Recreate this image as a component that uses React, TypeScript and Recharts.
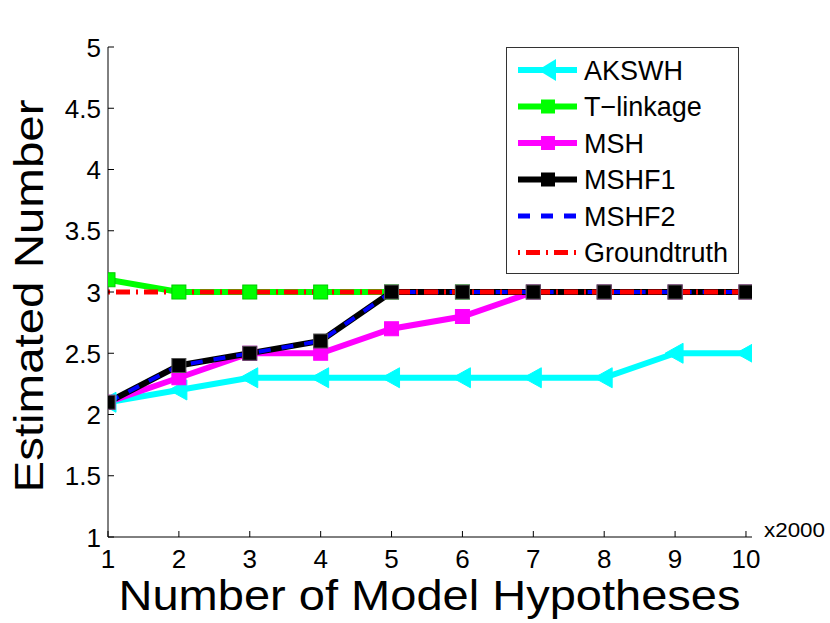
import React from "react";
import { LineChart, Line, XAxis, YAxis } from "recharts";

const hypotheses = [1, 2, 3, 4, 5, 6, 7, 8, 9, 10];
const akswh = [2.1, 2.2, 2.3, 2.3, 2.3, 2.3, 2.3, 2.3, 2.5, 2.5];
const tlinkage = [3.1, 3, 3, 3, 3, 3, 3, 3, 3, 3];
const msh = [2.1, 2.3, 2.5, 2.5, 2.7, 2.8, 3, 3, 3, 3];
const mshf1 = [2.1, 2.4, 2.5, 2.6, 3, 3, 3, 3, 3, 3];
const mshf2 = [2.1, 2.4, 2.5, 2.6, 3, 3, 3, 3, 3, 3];
const groundtruth = [3, 3, 3, 3, 3, 3, 3, 3, 3, 3];

const xTicks = [1, 2, 3, 4, 5, 6, 7, 8, 9, 10];
const yTicks = [1, 1.5, 2, 2.5, 3, 3.5, 4, 4.5, 5];
const seriesNames = ["AKSWH", "T\u2212linkage", "MSH", "MSHF1", "MSHF2", "Groundtruth"];

const data = hypotheses.map((h, i) => ({
  h,
  akswh: akswh[i],
  tlinkage: tlinkage[i],
  msh: msh[i],
  mshf1: mshf1[i],
  mshf2: mshf2[i],
  groundtruth: groundtruth[i],
}));

const FONT = "'Liberation Sans', Arial, Helvetica, sans-serif";

const CYAN = "#00FFFF";
const GREEN = "#00FF00";
const MAGENTA = "#FF00FF";
const BLACK = "#000000";
const BLUE = "#0000FF";
const RED = "#FF0000";

const triangleDot = (color: string) => (props: any) => {
  const { cx, cy, index } = props;
  if (cx == null || cy == null) return <g key={index} />;
  return (
    <path
      key={index}
      d={`M${cx - 10},${cy} L${cx + 8},${cy - 10} L${cx + 8},${cy + 10} Z`}
      fill={color}
      stroke={color}
      strokeWidth={1}
    />
  );
};

const squareDot = (fill: string, stroke: string) => (props: any) => {
  const { cx, cy, index } = props;
  if (cx == null || cy == null) return <g key={index} />;
  return (
    <rect
      key={index}
      x={cx - 7}
      y={cy - 7}
      width={14}
      height={14}
      fill={fill}
      stroke={stroke}
      strokeWidth={1}
    />
  );
};

const legendStyles = [
  { color: CYAN, width: 6, dash: undefined, marker: "tri" },
  { color: GREEN, width: 6, dash: undefined, marker: "sq" },
  { color: MAGENTA, width: 6, dash: undefined, marker: "sq" },
  { color: BLACK, width: 6, dash: undefined, marker: "sq" },
  { color: BLUE, width: 5, dash: "12 11", marker: null },
  { color: RED, width: 5, dash: "2 6 14 6", marker: null },
];

const LegendBox = () => (
  <svg width={233} height={227} style={{ display: "block" }}>
    <rect x={0.5} y={0.5} width={232} height={226} fill="#fff" stroke="#333" strokeWidth={1} />
    {seriesNames.map((name, i) => {
      const st = legendStyles[i];
      const cy = 23 + i * 36.5;
      const x1 = 12;
      const x2 = 71;
      const mx = 42;
      return (
        <g key={name}>
          <line x1={x1} x2={x2} y1={cy} y2={cy} stroke={st.color} strokeWidth={st.width} strokeDasharray={st.dash} />
          {st.marker === "tri" && (
            <path d={`M${mx - 10},${cy} L${mx + 8},${cy - 11} L${mx + 8},${cy + 11} Z`} fill={st.color} />
          )}
          {st.marker === "sq" && <rect x={mx - 7} y={cy - 7} width={14} height={14} fill={st.color} />}
          <text x={78} y={cy + 9.5} fontFamily={FONT} fontSize={27} fill="#000">
            {name}
          </text>
        </g>
      );
    })}
  </svg>
);

const XTitle = (props: any) => {
  const vb = props.viewBox || {};
  const left = vb.x ?? 108;
  const width = vb.width ?? 644;
  const top = vb.y ?? 537;
  return (
    <g>
      <text
        x={left + width / 2 - 0.5}
        y={top + 73}
        textAnchor="middle"
        fontFamily={FONT}
        fontSize={42}
        fill="#000"
        textLength={622}
        lengthAdjust="spacingAndGlyphs"
      >
        Number of Model Hypotheses
      </text>
      <text
        x={left + width + 12}
        y={top}
        fontFamily={FONT}
        fontSize={20}
        fill="#000"
        textLength={61}
        lengthAdjust="spacingAndGlyphs"
      >
        x2000
      </text>
    </g>
  );
};

const YTitle = (props: any) => {
  const vb = props.viewBox || {};
  const cy = (vb.y ?? 47) + (vb.height ?? 490) / 2 + 4;
  const bx = 43;
  return (
    <text
      x={bx}
      y={cy}
      transform={`rotate(-90, ${bx}, ${cy})`}
      textAnchor="middle"
      fontFamily={FONT}
      fontSize={41}
      fill="#000"
      textLength={393}
      lengthAdjust="spacingAndGlyphs"
    >
      Estimated Number
    </text>
  );
};

const XTick = (props: any) => {
  const { x, y, payload } = props;
  return (
    <text x={x} y={y + 23} textAnchor="middle" fontFamily={FONT} fontSize={26} fill="#000">
      {payload.value}
    </text>
  );
};

const YTick = (props: any) => {
  const { x, y, payload } = props;
  return (
    <text x={x + 1} y={y + 9.5} textAnchor="end" fontFamily={FONT} fontSize={26} fill="#000">
      {payload.value}
    </text>
  );
};

export default function App() {
  return (
    <div style={{ position: "absolute", left: 0, top: 0, width: 830, height: 623, background: "#fff" }}>
      <LineChart
        width={830}
        height={623}
        data={data}
        margin={{ top: 47, right: 78, bottom: 0, left: 0 }}
      >
        <XAxis
          xAxisId="b"
          dataKey="h"
          type="number"
          domain={[1, 10.085]}
          ticks={xTicks}
          allowDataOverflow
          height={86}
          tickSize={-6}
          tickMargin={14}
          tick={<XTick />}
          axisLine={{ stroke: "#000", strokeWidth: 1 }}
          tickLine={{ stroke: "#000" }}
          label={<XTitle />}
          interval={0}
        />
        <XAxis
          xAxisId="t"
          orientation="top"
          dataKey="h"
          type="number"
          domain={[1, 10.085]}
          ticks={xTicks}
          allowDataOverflow
          height={0}
          tickSize={-6}
          tick={() => <g />}
          axisLine={{ stroke: "#000", strokeWidth: 1 }}
          tickLine={{ stroke: "#000" }}
          interval={0}
        />
        <YAxis
          yAxisId="l"
          type="number"
          domain={[1, 5]}
          ticks={yTicks}
          width={108}
          tickSize={-6}
          tickMargin={14}
          tick={<YTick />}
          axisLine={{ stroke: "#000", strokeWidth: 1 }}
          tickLine={{ stroke: "#000" }}
          label={<YTitle />}
          interval={0}
        />
        <YAxis
          yAxisId="r"
          orientation="right"
          type="number"
          domain={[1, 5]}
          ticks={yTicks}
          width={0}
          tickSize={-6}
          tick={() => <g />}
          axisLine={{ stroke: "#000", strokeWidth: 1 }}
          tickLine={{ stroke: "#000" }}
          interval={0}
        />
        <Line
          xAxisId="b"
          yAxisId="l"
          dataKey="akswh"
          name="AKSWH"
          stroke={CYAN}
          strokeWidth={6}
          dot={triangleDot(CYAN)}
          activeDot={false}
          isAnimationActive={false}
        />
        <Line
          xAxisId="b"
          yAxisId="l"
          dataKey="tlinkage"
          name="T-linkage"
          stroke={GREEN}
          strokeWidth={6}
          dot={squareDot(GREEN, "#00cc00")}
          activeDot={false}
          isAnimationActive={false}
        />
        <Line
          xAxisId="b"
          yAxisId="l"
          dataKey="msh"
          name="MSH"
          stroke={MAGENTA}
          strokeWidth={6}
          dot={squareDot(MAGENTA, MAGENTA)}
          activeDot={false}
          isAnimationActive={false}
        />
        <Line
          xAxisId="b"
          yAxisId="l"
          dataKey="mshf1"
          name="MSHF1"
          stroke={BLACK}
          strokeWidth={6}
          dot={squareDot(BLACK, "#555")}
          activeDot={false}
          isAnimationActive={false}
        />
        <Line
          xAxisId="b"
          yAxisId="l"
          dataKey="mshf2"
          name="MSHF2"
          stroke={BLUE}
          strokeWidth={4}
          strokeDasharray="12 11"
          dot={false}
          activeDot={false}
          isAnimationActive={false}
        />
        <Line
          xAxisId="b"
          yAxisId="l"
          dataKey="groundtruth"
          name="Groundtruth"
          stroke={RED}
          strokeWidth={5}
          strokeDasharray="2 6 14 6"
          dot={false}
          activeDot={false}
          isAnimationActive={false}
        />
      </LineChart>
      <div style={{ position: "absolute", left: 506, top: 47, width: 233, height: 227 }}>
        <LegendBox />
      </div>
    </div>
  );
}
